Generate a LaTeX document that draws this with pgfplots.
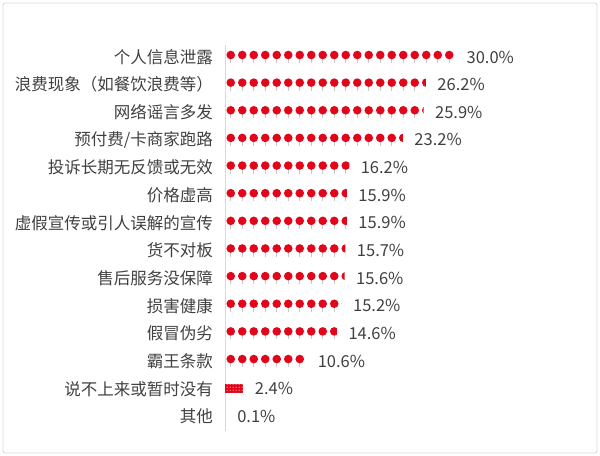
\documentclass[border=0pt]{standalone}
\usepackage{pgfplots}
\pgfplotsset{compat=1.18}
\usepackage{fontspec}
\setmainfont{Noto Sans CJK SC}
\usetikzlibrary{patterns}

\definecolor{pinred}{HTML}{E2061B}
\definecolor{stemgray}{HTML}{C8C8C8}
\definecolor{txtgray}{HTML}{404040}
\definecolor{framegray}{HTML}{D9D9D9}

% one pin per 1.5 %, tile height = one row
\pgfdeclarepatterninherentlycolored{pins}
{\pgfpoint{-5.5bp}{0bp}}{\pgfpoint{6bp}{27.64bp}}
{\pgfpoint{11.5bp}{27.64bp}}
{
  \pgfsetstrokecolor{stemgray}
  \pgfsetlinewidth{0.8bp}
  \pgfpathmoveto{\pgfpoint{0.75bp}{10.5bp}}
  \pgfpathlineto{\pgfpoint{0.75bp}{6bp}}
  \pgfusepath{stroke}
  \pgfsetfillcolor{pinred}
  \pgfpathcircle{\pgfpoint{0.75bp}{14.04bp}}{4.3bp}
  \pgfusepath{fill}
}

\pgfplotstableread{
idx val
0 30.0
1 26.2
2 25.9
3 23.2
4 16.2
5 15.9
6 15.9
7 15.7
8 15.6
9 15.2
10 14.6
11 10.6
13 0.1
}\pins

\pgfplotstableread{
idx val
12 2.4
}\other

\begin{document}
\begin{tikzpicture}
\path[use as bounding box] (0,0) rectangle (600bp,456bp);
\draw[framegray, line width=0.8bp, rounded corners=2bp] (3bp,3bp) rectangle (597bp,453bp);
\begin{axis}[
  at={(225bp,25bp)}, anchor=south west, scale only axis,
  width=306.8bp, height=385.97bp,
  xmin=0, xmax=40, ymin=-0.434, ymax=13.53, y dir=reverse,
  separate axis lines, axis x line=none, axis y line*=left,
  y axis line style={draw=framegray, line width=0.8bp},
  ytick={0,...,13}, major tick length=0pt,
  yticklabels={个人信息泄露,浪费现象（如餐饮浪费等）,网络谣言多发,预付费/卡商家跑路,投诉长期无反馈或无效,价格虚高,虚假宣传或引人误解的宣传,货不对板,售后服务没保障,损害健康,假冒伪劣,霸王条款,说不上来或暂时没有,其他},
  yticklabel style={font=\fontsize{16.5bp}{20bp}\selectfont, text=txtgray, inner sep=0pt, xshift=-12bp},
  xbar, bar width=14bp, bar shift=0pt, clip=false,
  /pgf/number format/assume math mode=true,
  nodes near coords={\pgfmathprintnumber[fixed,fixed zerofill,precision=1]{\pgfplotspointmeta}\%},
  every node near coord/.append style={font=\fontsize{16.5bp}{20bp}\selectfont, text=txtgray, xshift=8bp},
]
\addplot[draw=none, pattern=pins, bar shift=0pt] table[x=val, y=idx] {\pins};
\addplot[draw=none, fill=pinred, postaction={pattern=dots, pattern color=white}, bar width=9bp, bar shift=0pt] table[x=val, y=idx] {\other};
\end{axis}
\end{tikzpicture}
\end{document}
